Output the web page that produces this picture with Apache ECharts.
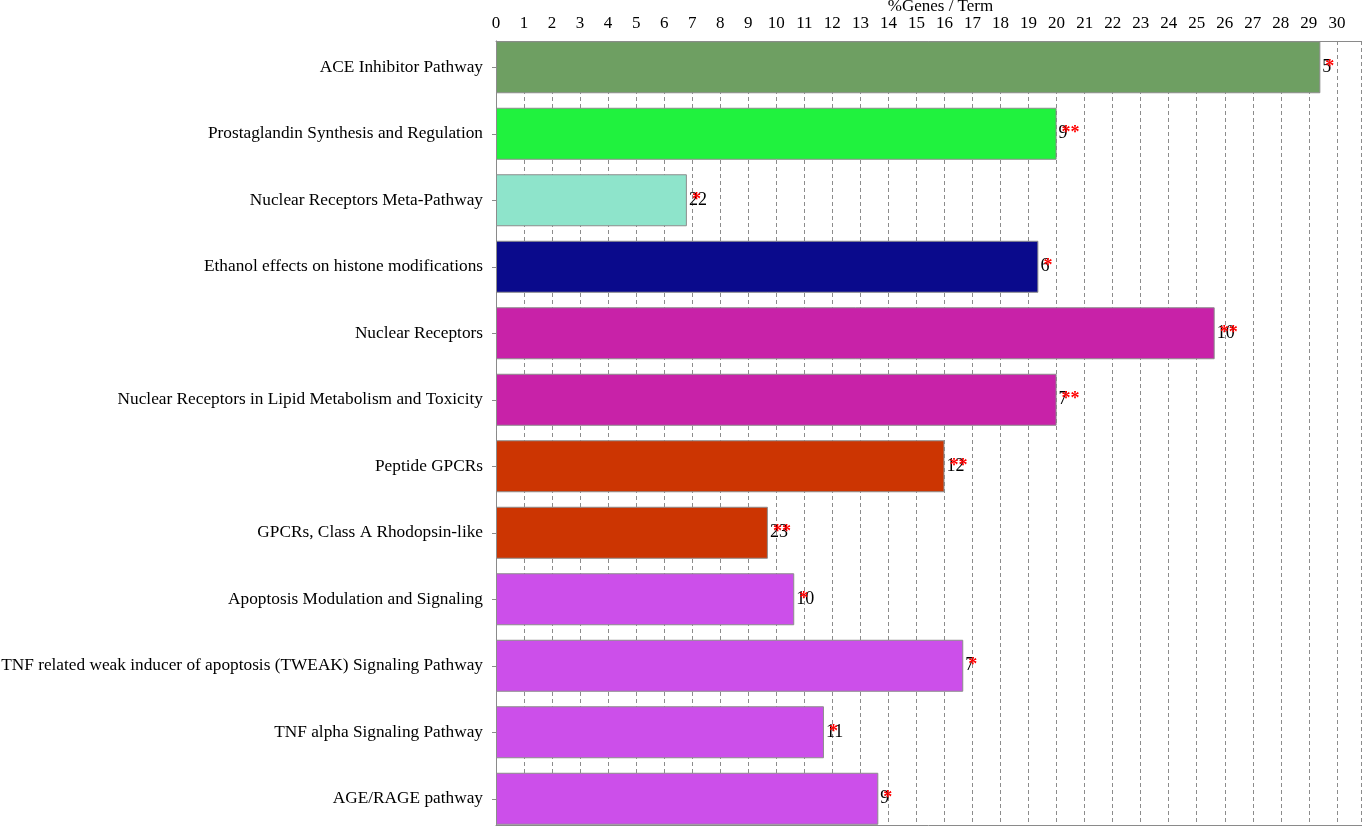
<!DOCTYPE html>
<html>
<head>
<meta charset="utf-8">
<script src="https://cdn.jsdelivr.net/npm/echarts@6/dist/echarts.min.js"></script>
<style>
html,body{margin:0;padding:0;background:#fff;}
#chart{width:1362px;height:826px;}
</style>
</head>
<body>
<div id="chart"></div>
<script>
// ---- data ----
const categories = [
  'ACE Inhibitor Pathway',
  'Prostaglandin Synthesis and Regulation',
  'Nuclear Receptors Meta-Pathway',
  'Ethanol effects on histone modifications',
  'Nuclear Receptors',
  'Nuclear Receptors in Lipid Metabolism and Toxicity',
  'Peptide GPCRs',
  'GPCRs, Class A Rhodopsin-like',
  'Apoptosis Modulation and Signaling',
  'TNF related weak inducer of apoptosis (TWEAK) Signaling Pathway',
  'TNF alpha Signaling Pathway',
  'AGE/RAGE pathway'
];
const percentGenes = [29.41, 20.0, 6.81, 19.35, 25.64, 20.0, 16.0, 9.70, 10.64, 16.67, 11.70, 13.64];
const geneCounts = [5, 9, 22, 6, 10, 7, 12, 23, 10, 7, 11, 9];
const significance = ['*', '**', '*', '*', '**', '**', '**', '**', '*', '*', '*', '*'];
const xTickMin = 0;
const xTickMax = 30.86;
const xTickInterval = 1;

// ---- styles ----
const barColors = ['#6E9F62', '#20F23E', '#8EE4CB', '#0A0A8C', '#C822A8', '#C822A8',
                   '#CC3502', '#CC3502', '#CC4FEA', '#CC4FEA', '#CC4FEA', '#CC4FEA'];
const FONT = 'Liberation Serif';
const GRID = {left: 496, right: 1, top: 34, height: 798};
const AXIS_SHIFT = 7;

const chart = echarts.init(document.getElementById('chart'), null, {renderer: 'canvas'});

const option = {
  backgroundColor: '#ffffff',
  animation: false,
  grid: {left: GRID.left, right: GRID.right, top: GRID.top, height: GRID.height,
         containLabel: false, outerBoundsMode: 'none'},
  xAxis: [{
    type: 'value',
    position: 'top',
    offset: -AXIS_SHIFT,
    min: xTickMin,
    max: xTickMax,
    interval: xTickInterval,
    name: '%Genes / Term',
    nameLocation: 'middle',
    nameGap: 26,
    nameMoveOverlap: false,
    nameTextStyle: {fontFamily: FONT, fontSize: 17, color: '#000', padding: [0, 0, 0, 24]},
    axisLine: {show: true, lineStyle: {color: '#8a8a8a', width: 1}},
    axisTick: {show: false},
    axisLabel: {
      fontFamily: FONT, fontSize: 17, color: '#000', margin: 9,
      showMaxLabel: false,
      formatter: v => (Math.abs(v - Math.round(v)) < 1e-6 ? String(Math.round(v)) : '')
    },
    splitLine: {show: true, lineStyle: {color: '#8c8c8c', type: [4, 3], width: 1}}
  }, {
    type: 'value',
    position: 'bottom',
    offset: -AXIS_SHIFT,
    min: xTickMin,
    max: xTickMax,
    interval: xTickInterval,
    axisLine: {show: true, lineStyle: {color: '#8a8a8a', width: 1}},
    axisTick: {show: false},
    axisLabel: {show: false},
    splitLine: {show: false}
  }],
  yAxis: [{
    type: 'category',
    data: categories,
    inverse: true,
    position: 'left',
    axisLine: {show: true, lineStyle: {color: '#8a8a8a', width: 1}},
    axisTick: {show: true, alignWithLabel: true, length: 4, lineStyle: {color: '#8a8a8a'}},
    axisLabel: {fontFamily: FONT, fontSize: 17.3, color: '#000', margin: 13},
    splitLine: {show: false}
  }, {
    type: 'category',
    data: categories,
    inverse: true,
    position: 'right',
    axisLine: {show: true, lineStyle: {color: '#8a8a8a', width: 1}},
    axisTick: {show: false},
    axisLabel: {show: false},
    splitLine: {show: false}
  }],
  series: [{
    type: 'bar',
    xAxisIndex: 0,
    yAxisIndex: 0,
    data: percentGenes.map((v, i) => ({value: v, itemStyle: {color: barColors[i]}})),
    barWidth: 52,
    itemStyle: {borderColor: '#8c8c8c', borderWidth: 1},
    label: {
      show: true,
      position: 'right',
      distance: 2,
      fontFamily: FONT,
      fontSize: 18,
      color: '#000',
      formatter: p => String(geneCounts[p.dataIndex])
    },
    z: 2
  }, {
    type: 'bar',
    xAxisIndex: 0,
    yAxisIndex: 0,
    data: percentGenes,
    barWidth: 52,
    barGap: '-100%',
    itemStyle: {color: 'rgba(0,0,0,0)'},
    label: {
      show: true,
      position: 'right',
      distance: 5,
      fontFamily: FONT,
      fontSize: 18,
      fontWeight: 'bold',
      color: '#ff0000',
      offset: [0, 0],
      formatter: p => significance[p.dataIndex]
    },
    silent: true,
    z: 3
  }],
  graphic: [{
    type: 'rect',
    shape: {x: GRID.left - 3, y: GRID.top - 1, width: 1362 - GRID.left + 3, height: AXIS_SHIFT + 0.5},
    style: {fill: '#ffffff'},
    z: 100
  }]
};
chart.setOption(option);
</script>
</body>
</html>
